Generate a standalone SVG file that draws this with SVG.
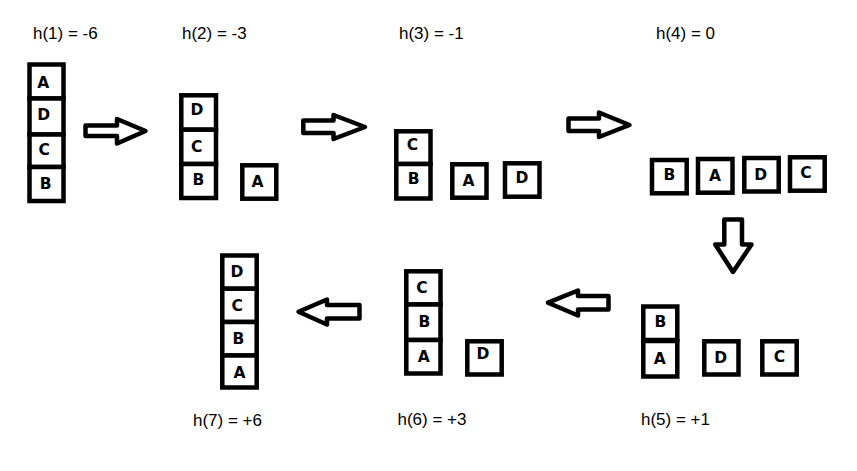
<svg xmlns="http://www.w3.org/2000/svg" width="857" height="471" viewBox="0 0 857 471">
<style>
.b{fill:#fff;stroke:#000;stroke-width:4.5}
.l{font-family:"DejaVu Sans",sans-serif;font-weight:bold;font-size:15.5px;text-anchor:middle;fill:#000}
.h{font-family:"Liberation Sans",sans-serif;font-size:17px;fill:#000}
.a{fill:#fff;stroke:#000;stroke-width:4.5;stroke-linejoin:round}
</style>
<rect width="857" height="471" fill="#fff"/>
<g id="state1">
<text class="h" x="33" y="39">h(1) = -6</text>
<rect class="b" x="29.5" y="64.5" width="34" height="34"/>
<rect class="b" x="29.5" y="98.5" width="34" height="36"/>
<rect class="b" x="29.5" y="134.5" width="34" height="32.5"/>
<rect class="b" x="29.5" y="167" width="34" height="34"/>
<text class="l" x="43.3" y="88.3">A</text>
<text class="l" x="43.8" y="120">D</text>
<text class="l" x="44.3" y="155">C</text>
<text class="l" x="45.7" y="189">B</text>
</g>
<g id="state2">
<text class="h" x="182" y="39">h(2) = -3</text>
<rect class="b" x="181.3" y="95.3" width="34.7" height="34.4"/>
<rect class="b" x="181.3" y="129.7" width="34.7" height="34.3"/>
<rect class="b" x="181.3" y="164" width="34.7" height="34"/>
<rect class="b" x="242.3" y="165.3" width="34" height="33.4"/>
<text class="l" x="197" y="115">D</text>
<text class="l" x="196.7" y="151.7">C</text>
<text class="l" x="198.3" y="185">B</text>
<text class="l" x="257.5" y="186.7">A</text>
</g>
<g id="state3">
<text class="h" x="399" y="39">h(3) = -1</text>
<rect class="b" x="396.3" y="131.3" width="34.2" height="32.7"/>
<rect class="b" x="396.3" y="164" width="34.2" height="34.5"/>
<rect class="b" x="452.3" y="164.3" width="34.2" height="33.4"/>
<rect class="b" x="505" y="163.3" width="34.5" height="33.4"/>
<text class="l" x="412.5" y="150">C</text>
<text class="l" x="413.7" y="184.3">B</text>
<text class="l" x="468.5" y="185.7">A</text>
<text class="l" x="522" y="183.3">D</text>
</g>
<g id="state4">
<text class="h" x="656" y="39">h(4) = 0</text>
<rect class="b" x="652" y="160" width="34.7" height="33.3"/>
<rect class="b" x="698" y="159" width="34.5" height="33.7"/>
<rect class="b" x="744.3" y="158" width="34.4" height="33.5"/>
<rect class="b" x="790" y="157.3" width="34.7" height="33.4"/>
<text class="l" x="669.3" y="180">B</text>
<text class="l" x="715" y="181">A</text>
<text class="l" x="760.8" y="180">D</text>
<text class="l" x="806" y="178.3">C</text>
</g>
<g id="state5">
<text class="h" x="641" y="425">h(5) = +1</text>
<rect class="b" x="643.3" y="306.5" width="34" height="33.5"/>
<rect class="b" x="643.3" y="341" width="34" height="35.5"/>
<rect class="b" x="704.3" y="341.3" width="34.2" height="33.2"/>
<rect class="b" x="762.3" y="341.3" width="34.4" height="33.2"/>
<text class="l" x="660.3" y="326.7">B</text>
<text class="l" x="659.8" y="364.3">A</text>
<text class="l" x="720.7" y="362.7">D</text>
<text class="l" x="779.5" y="362.3">C</text>
</g>
<g id="state6">
<text class="h" x="397.5" y="425">h(6) = +3</text>
<rect class="b" x="406.3" y="271.3" width="34.2" height="33.2"/>
<rect class="b" x="406.3" y="304.5" width="34.2" height="35.5"/>
<rect class="b" x="406.3" y="340" width="34.2" height="33.5"/>
<rect class="b" x="467.3" y="341.3" width="34.4" height="33.2"/>
<text class="l" x="422" y="292.7">C</text>
<text class="l" x="424.3" y="326.7">B</text>
<text class="l" x="423.8" y="361.7">A</text>
<text class="l" x="483" y="359.3">D</text>
</g>
<g id="state7">
<text class="h" x="193" y="425.5">h(7) = +6</text>
<rect class="b" x="222.3" y="255.5" width="34.4" height="33.2"/>
<rect class="b" x="222.3" y="288.7" width="34.4" height="33.3"/>
<rect class="b" x="222.3" y="322" width="34.4" height="33.5"/>
<rect class="b" x="222.3" y="355.5" width="34.4" height="32"/>
<text class="l" x="237" y="276.7">D</text>
<text class="l" x="237.3" y="311">C</text>
<text class="l" x="238.3" y="344.3">B</text>
<text class="l" x="239.5" y="377.7">A</text>
</g>
<g id="connectors">
<path class="a" d="M85.5,125.5 L117,125.5 L117,119 L145.5,131 L117,143.5 L117,136 L85.5,136 Z"/>
<path class="a" d="M303.3,120.5 L333.5,120.5 L333.5,115 L365,127 L333.5,139 L333.5,133 L303.3,133 Z"/>
<path class="a" d="M568.5,118.5 L599,118.5 L599,112.5 L629.5,125 L599,137 L599,131 L568.5,131 Z"/>
<path class="a" d="M724.3,219.5 L742,219.5 L742,244.5 L751.5,244.5 L733,272 L715.3,244.5 L724.3,244.5 Z"/>
<path class="a" d="M608.5,296 L578,296 L578,290.5 L548,302.7 L578,315.5 L578,309.5 L608.5,309.5 Z"/>
<path class="a" d="M359.5,305 L327,305 L327,299.5 L298.5,311.7 L327,324.5 L327,318.5 L359.5,318.5 Z"/>
</g>
</svg>
